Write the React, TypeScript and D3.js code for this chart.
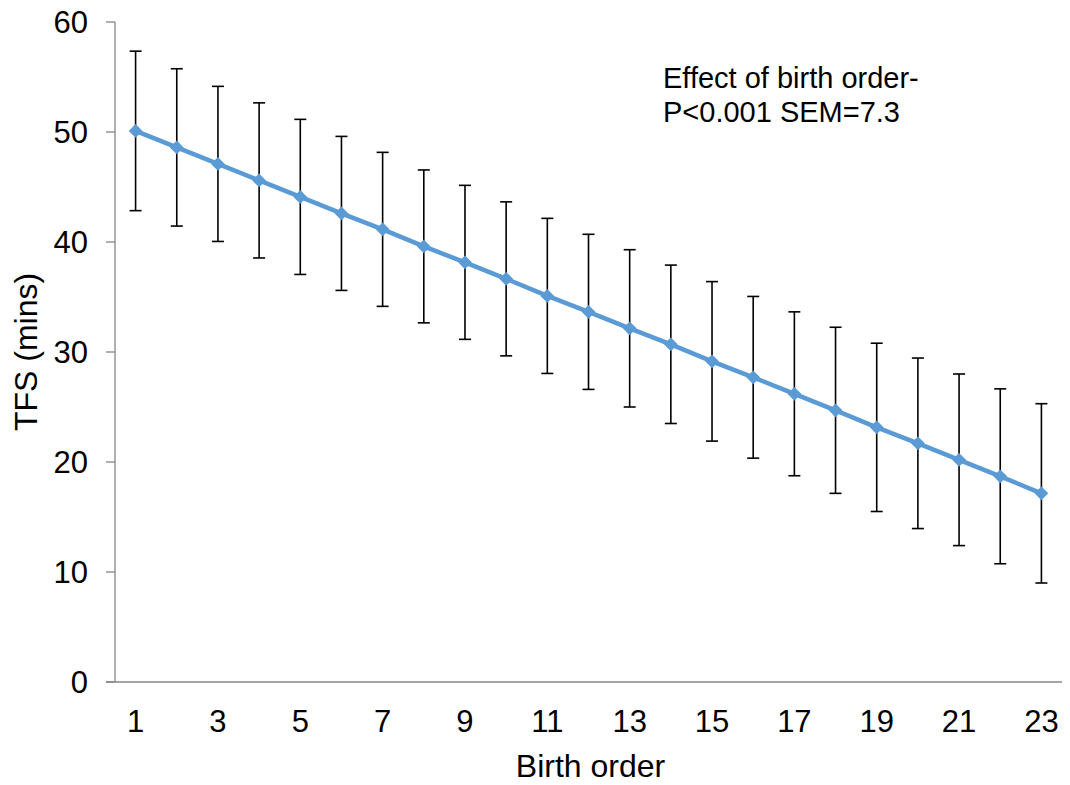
import React from "react";
import * as d3 from "d3";

// birth order categories and modelled TFS (mins)
const birthOrder = [1, 2, 3, 4, 5, 6, 7, 8, 9, 10, 11, 12, 13, 14, 15, 16, 17, 18, 19, 20, 21, 22, 23];
const tfsMean = [50.1, 48.6, 47.1, 45.6, 44.1, 42.6, 41.15, 39.6, 38.15, 36.65, 35.1, 33.65, 32.15, 30.7, 29.15, 27.7, 26.2, 24.7, 23.15, 21.7, 20.2, 18.7, 17.15];
const tfsErr = [7.25, 7.15, 7.05, 7.05, 7.05, 7.0, 7.0, 6.95, 7.0, 7.0, 7.05, 7.05, 7.15, 7.2, 7.25, 7.35, 7.45, 7.55, 7.65, 7.75, 7.8, 7.95, 8.15];
const xTickLabels = [1, 3, 5, 7, 9, 11, 13, 15, 17, 19, 21, 23];
const yTicks = [0, 10, 20, 30, 40, 50, 60];
const noteLines = ["Effect of birth order-", "P<0.001 SEM=7.3"];

const W = 1070;
const H = 785;
const FONT = "'Liberation Sans', Arial, sans-serif";
const AXIS = "#868686";
const BLUE = "#5B9BD5";

const App = () => {
  const x = d3.scaleBand<number>().domain(birthOrder).range([115, 1062]);
  const y = d3.scaleLinear().domain([0, 60]).range([682, 22]);
  const cx = (d: number) => (x(d) as number) + x.bandwidth() / 2;

  const points = birthOrder.map((b, i) => ({ b, v: tfsMean[i], e: tfsErr[i] }));

  const line = d3
    .line<{ b: number; v: number }>()
    .x((d) => cx(d.b))
    .y((d) => y(d.v));

  const diamond = d3.symbol().type(d3.symbolSquare).size(95)();
  const [x0, x1] = x.range();
  const capW = 6;

  return (
    <svg
      width={W}
      height={H}
      style={{ position: "absolute", left: 0, top: 0, background: "#fff" }}
      fontFamily={FONT}
    >
      {/* y axis */}
      <line x1={x0} x2={x0} y1={y(60)} y2={y(0)} stroke={AXIS} strokeWidth={1.3} />
      {yTicks.map((t) => (
        <g key={t}>
          <line x1={x0 - 9} x2={x0} y1={y(t)} y2={y(t)} stroke={AXIS} strokeWidth={1.3} />
          <text x={88} y={y(t)} dy="0.36em" textAnchor="end" fontSize={31} fill="#000">
            {t}
          </text>
        </g>
      ))}
      {/* x axis */}
      <line x1={x0 - 9} x2={x1} y1={y(0)} y2={y(0)} stroke={AXIS} strokeWidth={1.3} />
      {xTickLabels.map((t) => (
        <text key={t} x={cx(t)} y={732} textAnchor="middle" fontSize={31} fill="#000">
          {t}
        </text>
      ))}

      {/* axis titles */}
      <text x={(x0 + x1) / 2 + 2} y={777} textAnchor="middle" fontSize={32} fill="#000">
        Birth order
      </text>
      <text
        transform={`translate(37 ${(y(0) + y(60)) / 2}) rotate(-90)`}
        textAnchor="middle"
        fontSize={32}
        fill="#000"
      >
        TFS (mins)
      </text>

      {/* error bars */}
      {points.map((d) => (
        <g key={`e${d.b}`} stroke="#000" strokeWidth={1.6}>
          <line x1={cx(d.b)} x2={cx(d.b)} y1={y(d.v + d.e)} y2={y(d.v - d.e)} />
          <line x1={cx(d.b) - capW} x2={cx(d.b) + capW} y1={y(d.v + d.e)} y2={y(d.v + d.e)} />
          <line x1={cx(d.b) - capW} x2={cx(d.b) + capW} y1={y(d.v - d.e)} y2={y(d.v - d.e)} />
        </g>
      ))}

      {/* series */}
      <path d={line(points) as string} fill="none" stroke={BLUE} strokeWidth={4.5} strokeLinejoin="round" />
      {points.map((d) => (
        <path
          key={`m${d.b}`}
          d={diamond as string}
          transform={`translate(${cx(d.b)} ${y(d.v)}) rotate(45)`}
          fill={BLUE}
        />
      ))}

      {/* annotation */}
      <text fontSize={29} fill="#000">
        {noteLines.map((l, i) => (
          <tspan key={i} x={663} y={88 + i * 33.5}>
            {l}
          </tspan>
        ))}
      </text>
    </svg>
  );
};

export default App;
